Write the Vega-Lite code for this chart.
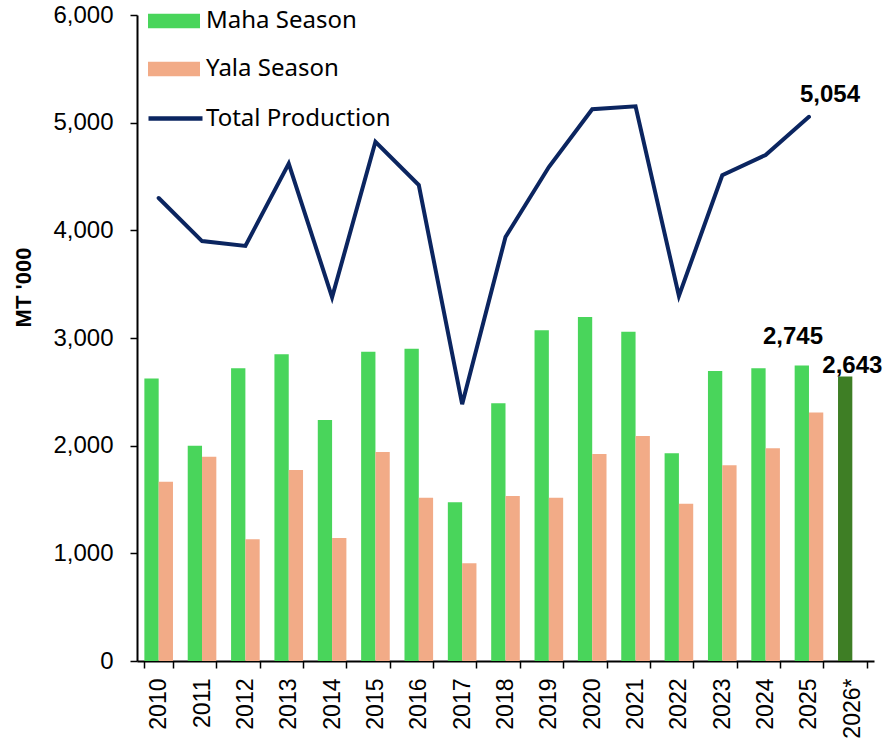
{
  "$schema": "https://vega.github.io/schema/vega-lite/v6.json",
  "width": 737,
  "height": 646,
  "autosize": "none",
  "padding": {"left": 137, "top": 15, "right": 10, "bottom": 78},
  "background": "white",
  "config": {"view": {"stroke": null}, "font": "Liberation Sans"},
  "datasets": {
    "bars": [
      {"year": "2010", "season": "Maha", "series": "Maha Season", "value": 2625},
      {"year": "2010", "season": "Yala", "series": "Yala Season", "value": 1665},
      {"year": "2011", "season": "Maha", "series": "Maha Season", "value": 2000},
      {"year": "2011", "season": "Yala", "series": "Yala Season", "value": 1897},
      {"year": "2012", "season": "Maha", "series": "Maha Season", "value": 2718},
      {"year": "2012", "season": "Yala", "series": "Yala Season", "value": 1130},
      {"year": "2013", "season": "Maha", "series": "Maha Season", "value": 2848},
      {"year": "2013", "season": "Yala", "series": "Yala Season", "value": 1774},
      {"year": "2014", "season": "Maha", "series": "Maha Season", "value": 2238},
      {"year": "2014", "season": "Yala", "series": "Yala Season", "value": 1142},
      {"year": "2015", "season": "Maha", "series": "Maha Season", "value": 2873},
      {"year": "2015", "season": "Yala", "series": "Yala Season", "value": 1941},
      {"year": "2016", "season": "Maha", "series": "Maha Season", "value": 2901},
      {"year": "2016", "season": "Yala", "series": "Yala Season", "value": 1517},
      {"year": "2017", "season": "Maha", "series": "Maha Season", "value": 1474},
      {"year": "2017", "season": "Yala", "series": "Yala Season", "value": 907},
      {"year": "2018", "season": "Maha", "series": "Maha Season", "value": 2393},
      {"year": "2018", "season": "Yala", "series": "Yala Season", "value": 1532},
      {"year": "2019", "season": "Maha", "series": "Maha Season", "value": 3071},
      {"year": "2019", "season": "Yala", "series": "Yala Season", "value": 1517},
      {"year": "2020", "season": "Maha", "series": "Maha Season", "value": 3195},
      {"year": "2020", "season": "Yala", "series": "Yala Season", "value": 1923},
      {"year": "2021", "season": "Maha", "series": "Maha Season", "value": 3059},
      {"year": "2021", "season": "Yala", "series": "Yala Season", "value": 2090},
      {"year": "2022", "season": "Maha", "series": "Maha Season", "value": 1929},
      {"year": "2022", "season": "Yala", "series": "Yala Season", "value": 1461},
      {"year": "2023", "season": "Maha", "series": "Maha Season", "value": 2693},
      {"year": "2023", "season": "Yala", "series": "Yala Season", "value": 1817},
      {"year": "2024", "season": "Maha", "series": "Maha Season", "value": 2718},
      {"year": "2024", "season": "Yala", "series": "Yala Season", "value": 1975},
      {"year": "2025", "season": "Maha", "series": "Maha Season", "value": 2745},
      {"year": "2025", "season": "Yala", "series": "Yala Season", "value": 2309},
      {"year": "2026*", "season": "Maha", "series": "Maha Forecast", "value": 2643}
    ],
    "totals": [
      {"year": "2010", "total": 4300},
      {"year": "2011", "total": 3900},
      {"year": "2012", "total": 3855},
      {"year": "2013", "total": 4620},
      {"year": "2014", "total": 3378},
      {"year": "2015", "total": 4822},
      {"year": "2016", "total": 4421},
      {"year": "2017", "total": 2385},
      {"year": "2018", "total": 3938},
      {"year": "2019", "total": 4588},
      {"year": "2020", "total": 5125},
      {"year": "2021", "total": 5152},
      {"year": "2022", "total": 3390},
      {"year": "2023", "total": 4512},
      {"year": "2024", "total": 4700},
      {"year": "2025", "total": 5054}
    ]
  },
  "layer": [
    {
      "data": {"name": "bars"},
      "mark": {"type": "bar"},
      "encoding": {
        "x": {
          "field": "year",
          "type": "ordinal",
          "scale": {"paddingInner": 0.34, "paddingOuter": 0.17},
          "axis": {
            "title": null,
            "labelAngle": -90,
            "labelAlign": "right",
            "labelBaseline": "middle",
            "labelFontSize": 23,
            "labelColor": "black",
            "labelPadding": 10,
            "tickSize": 7,
            "tickBand": "extent",
            "tickColor": "black",
            "tickWidth": 1.5,
            "domainColor": "black",
            "domainWidth": 2
          }
        },
        "xOffset": {"field": "season", "type": "nominal", "scale": {"domain": ["Maha", "Yala"]}},
        "y": {
          "field": "value",
          "type": "quantitative",
          "scale": {"domain": [0, 6000], "nice": false},
          "axis": {
            "title": "MT '000",
            "titleFontSize": 22,
            "titleFontWeight": "bold",
            "titleColor": "black",
            "titleAngle": -90,
            "titleAlign": "center",
            "titleBaseline": "middle",
            "titleX": -114,
            "titleY": 272,
            "values": [0, 1000, 2000, 3000, 4000, 5000, 6000],
            "format": ",.0f",
            "labelFontSize": 24,
            "labelColor": "black",
            "labelPadding": 17,
            "tickSize": 7,
            "tickColor": "black",
            "tickWidth": 1.5,
            "domainColor": "black",
            "domainWidth": 2,
            "grid": false
          }
        },
        "color": {
          "field": "series",
          "type": "nominal",
          "scale": {
            "domain": ["Maha Season", "Yala Season", "Maha Forecast"],
            "range": ["#49D55B", "#F2AB87", "#3E7E25"]
          },
          "legend": {
            "orient": "none",
            "legendX": 11,
            "legendY": -20,
            "title": null,
            "values": ["Maha Season", "Yala Season"],
            "symbolType": "M-1,-0.28H1V0.28H-1Z",
            "symbolSize": 2704,
            "symbolStrokeWidth": 0,
            "symbolOpacity": 1,
            "labelFont": "Noto Sans",
            "labelFontSize": 24,
            "labelLimit": 400,
            "labelColor": "black",
            "labelOffset": 6,
            "rowPadding": 10,
            "padding": 0
          }
        }
      }
    },
    {
      "data": {"name": "totals"},
      "mark": {"type": "line", "strokeWidth": 4, "strokeCap": "round", "strokeJoin": "miter"},
      "encoding": {
        "x": {"field": "year", "type": "ordinal"},
        "y": {"field": "total", "type": "quantitative"},
        "stroke": {
          "datum": "Total Production",
          "type": "nominal",
          "scale": {"range": ["#0B2560"]},
          "legend": {
            "orient": "none",
            "legendX": 9,
            "legendY": 74,
            "title": null,
            "symbolType": "stroke",
            "symbolSize": 2916,
            "symbolStrokeWidth": 4.5,
            "labelFont": "Noto Sans",
            "labelFontSize": 24,
            "labelLimit": 400,
            "labelColor": "black",
            "labelOffset": 1,
            "padding": 0
          }
        }
      }
    },
    {
      "data": {"name": "totals"},
      "transform": [{"filter": "datum.year == '2025'"}],
      "mark": {"type": "text", "font": "Liberation Sans", "fontWeight": "bold", "fontSize": 24, "align": "left", "baseline": "alphabetic", "dx": -9, "dy": -15, "color": "black"},
      "encoding": {
        "x": {"field": "year", "type": "ordinal"},
        "y": {"field": "total", "type": "quantitative"},
        "text": {"field": "total", "type": "quantitative", "format": ",.0f"}
      }
    },
    {
      "data": {"name": "bars"},
      "transform": [{"filter": "datum.year == '2025' && datum.season == 'Maha'"}],
      "mark": {"type": "text", "font": "Liberation Sans", "fontWeight": "bold", "fontSize": 24, "align": "center", "baseline": "alphabetic", "dx": -16, "dy": -21, "color": "black"},
      "encoding": {
        "x": {"field": "year", "type": "ordinal"},
        "y": {"field": "value", "type": "quantitative"},
        "text": {"field": "value", "type": "quantitative", "format": ",.0f"}
      }
    },
    {
      "data": {"name": "bars"},
      "transform": [{"filter": "datum.year == '2026*'"}],
      "mark": {"type": "text", "font": "Liberation Sans", "fontWeight": "bold", "fontSize": 24, "align": "center", "baseline": "alphabetic", "dx": 0, "dy": -3, "color": "black"},
      "encoding": {
        "x": {"field": "year", "type": "ordinal"},
        "y": {"field": "value", "type": "quantitative"},
        "text": {"field": "value", "type": "quantitative", "format": ",.0f"}
      }
    }
  ]
}
